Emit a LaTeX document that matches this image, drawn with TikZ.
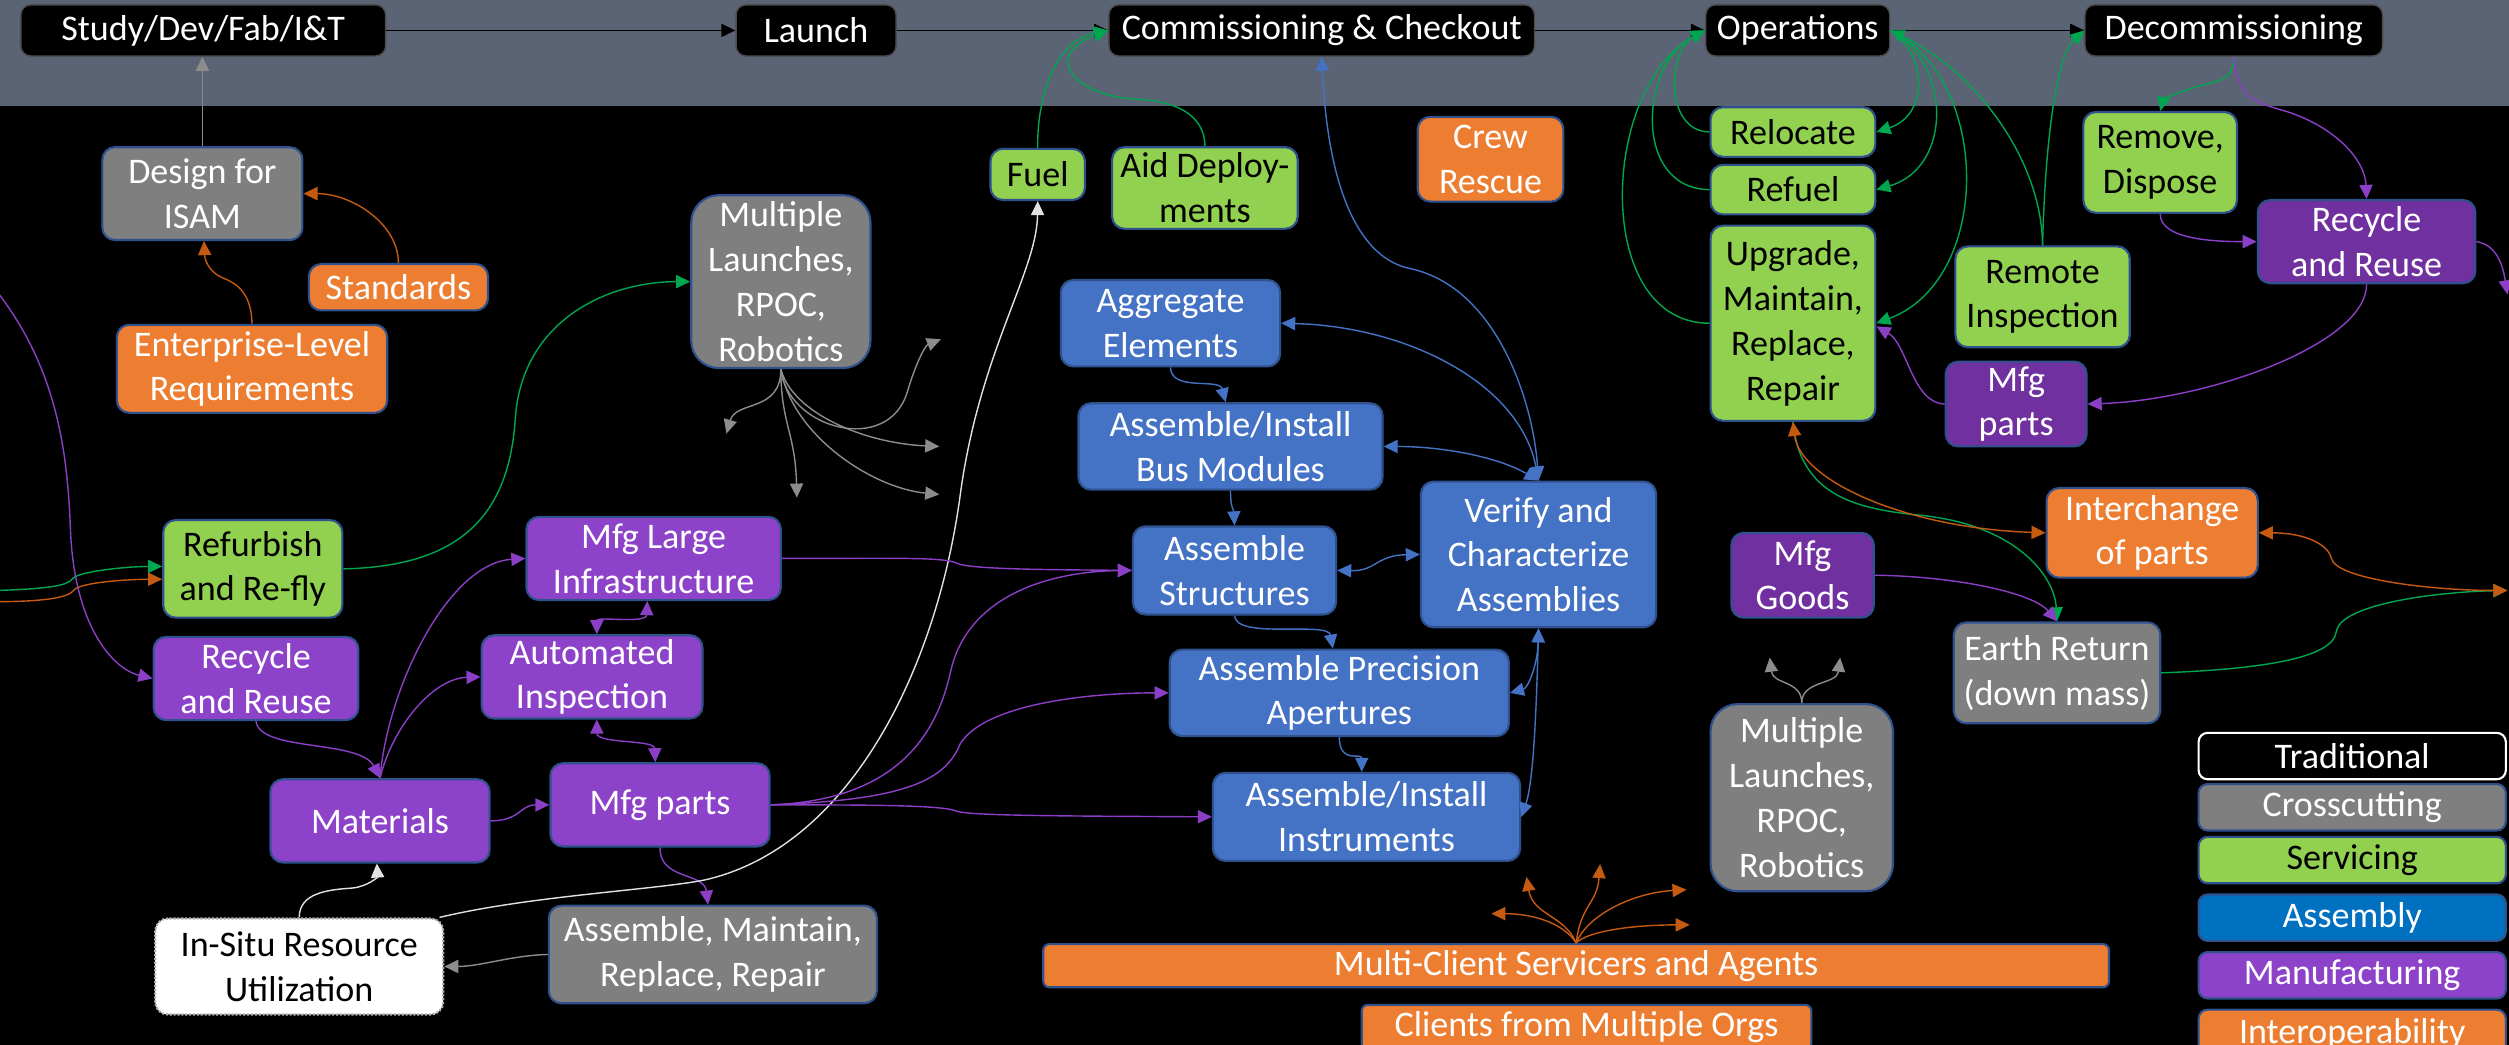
\documentclass[tikz,border=0pt]{standalone}
\usepackage{fontspec}
\setmainfont{Carlito}
\usetikzlibrary{arrows.meta,calc}
\definecolor{band}{RGB}{91,100,117}
\definecolor{bord}{RGB}{47,82,143}
\definecolor{cgray}{RGB}{127,127,127}
\definecolor{cgreen}{RGB}{146,208,80}
\definecolor{cblue}{RGB}{68,114,196}
\definecolor{cbluetwo}{RGB}{0,112,192}
\definecolor{cpurp}{RGB}{141,67,201}
\definecolor{cpurpd}{RGB}{112,48,160}
\definecolor{corange}{RGB}{237,125,49}
\definecolor{aor}{RGB}{197,90,17}
\definecolor{agr}{RGB}{0,166,80}
\definecolor{apu}{RGB}{138,63,198}
\definecolor{abl}{RGB}{68,114,196}
\definecolor{agy}{RGB}{140,140,140}
\definecolor{awh}{RGB}{225,225,225}
\newcommand\bx[7]{\node[#2, minimum width={(#5-#3)*0.032cm}, minimum height={(#6-#4)*0.032cm}] (#1) at ({(#3+#5)/2},{(#4+#6)/2}) {#7};}
\tikzset{
  >={Triangle[length=8pt,width=7.5pt]},
  nbase/.style={draw=bord, line width=1.2pt, rounded corners=0.25cm, inner sep=0pt, align=center, font=\fontsize{20.5}{25.5}\selectfont},
  topbox/.style={nbase, fill=black, draw=black!70, line width=0.8pt, text=white, rounded corners=0.2cm},
  graybox/.style={nbase, fill=cgray, text=white},
  greenbox/.style={nbase, fill=cgreen, text=black},
  bluebox/.style={nbase, fill=cblue, text=white},
  purpbox/.style={nbase, fill=cpurp, text=white},
  purpdbox/.style={nbase, fill=cpurpd, text=white},
  orbox/.style={nbase, fill=corange, text=white},
  roundgray/.style={graybox, rounded corners=0.55cm},
  isrubox/.style={nbase, fill=white, draw=gray!60, densely dotted, text=black},
  legtrad/.style={nbase, fill=black, draw=white, text=white},
  leg/.style={rounded corners=0.18cm},
  conn/.style={line width=0.8pt, ->},
  egr/.style={conn, draw=agr},
  eor/.style={conn, draw=aor},
  epu/.style={conn, draw=apu},
  ebl/.style={conn, draw=abl},
  egy/.style={conn, draw=agy},
  ewh/.style={conn, draw=awh},
  eblk/.style={conn, draw=black}
}
\begin{document}
\begin{tikzpicture}[x=0.032cm,y=-0.032cm]
\useasboundingbox (0,0) rectangle (1568,653);
\clip (0,0) rectangle (1568,653);
\fill[black] (0,0) rectangle (1568,653);
\fill[band] (0,0) rectangle (1568,66);

% ---- nodes
\bx{study}{topbox}{13}{3}{241}{35}{Study/Dev/Fab/I\&T}
\bx{launch}{topbox}{460}{3}{560}{35}{Launch}
\bx{comm}{topbox}{693}{3}{959}{35}{Commissioning \& Checkout}
\bx{ops}{topbox}{1066}{3}{1181}{35}{Operations}
\bx{decom}{topbox}{1303}{3}{1489}{35}{Decommissioning}
\bx{design}{graybox}{64}{92}{189}{150}{Design for\\ISAM}
\bx{standards}{orbox}{193}{165}{305}{194}{Standards}
\bx{enterprise}{orbox}{73}{203}{242}{258}{Enterprise-Level\\Requirements}
\bx{mult1}{roundgray}{432}{122}{544}{230}{Multiple\\Launches,\\RPOC,\\Robotics}
\bx{refurb}{greenbox}{102}{325}{214}{386}{Refurbish\\and Re-fly}
\bx{recycleL}{purpbox}{96}{398}{224}{450}{Recycle\\and Reuse}
\bx{mfglarge}{purpbox}{329}{323}{488}{375}{Mfg Large\\Infrastructure}
\bx{autoinsp}{purpbox}{301}{397}{439}{449}{Automated\\Inspection}
\bx{materials}{purpbox}{169}{487}{306}{539}{Materials}
\bx{mfgpartsL}{purpbox}{344}{477}{481}{529}{Mfg parts}
\bx{insitu}{isrubox}{97}{574}{277}{634}{In-Situ Resource\\Utilization}
\bx{asm}{graybox}{343}{566}{548}{627}{Assemble, Maintain,\\Replace, Repair}
\bx{fuel}{greenbox}{619}{93}{678}{125}{Fuel}
\bx{aid}{greenbox}{695}{92}{811}{143}{Aid Deploy-\\ments}
\bx{crew}{orbox}{886}{73}{977}{126}{Crew\\Rescue}
\bx{aggregate}{bluebox}{663}{175}{800}{229}{Aggregate\\Elements}
\bx{bus}{bluebox}{674}{252}{864}{306}{Assemble/Install\\Bus Modules}
\bx{structures}{bluebox}{708}{329}{835}{384}{Assemble\\Structures}
\bx{verify}{bluebox}{888}{301}{1035}{392}{Verify and\\Characterize\\Assemblies}
\bx{precision}{bluebox}{731}{406}{943}{460}{Assemble Precision\\Apertures}
\bx{instruments}{bluebox}{758}{483}{950}{538}{Assemble/Install\\Instruments}
\bx{relocate}{greenbox}{1069}{67}{1172}{98}{Relocate}
\bx{refuel}{greenbox}{1069}{103}{1172}{134}{Refuel}
\bx{upgrade}{greenbox}{1069}{141}{1172}{263}{Upgrade,\\Maintain,\\Replace,\\Repair}
\bx{remote}{greenbox}{1222}{154}{1331}{217}{Remote\\Inspection}
\bx{mfgpartsR}{purpdbox}{1216}{226}{1304}{279}{Mfg\\parts}
\bx{remove}{greenbox}{1302}{70}{1398}{133}{Remove,\\Dispose}
\bx{recycleR}{purpdbox}{1411}{125}{1547}{177}{Recycle\\and Reuse}
\bx{mfggoods}{purpdbox}{1082}{333}{1171}{386}{Mfg\\Goods}
\bx{interchange}{orbox}{1279}{305}{1411}{361}{Interchange\\of parts}
\bx{earth}{graybox}{1221}{389}{1350}{452}{Earth Return\\(down mass)}
\bx{mult2}{roundgray}{1069}{440}{1183}{557}{Multiple\\Launches,\\RPOC,\\Robotics}
\bx{mc}{orbox, rounded corners=0.12cm}{652}{590}{1318}{617}{Multi-Client Servicers and Agents}
\bx{clients}{orbox, rounded corners=0.12cm}{851}{628}{1132}{656}{Clients from Multiple Orgs}
\bx{lt}{legtrad, leg}{1374}{458}{1566}{487}{Traditional}
\bx{lc}{graybox, leg}{1374}{490}{1566}{519}{Crosscutting}
\bx{ls}{greenbox, leg}{1374}{523}{1566}{552}{Servicing}
\bx{la}{bluebox, leg, fill=cbluetwo}{1374}{559}{1566}{588}{Assembly}
\bx{lm}{purpbox, leg}{1374}{595}{1566}{624}{Manufacturing}
\bx{li}{orbox, leg}{1374}{631}{1566}{661}{Interoperability}

% free ends
\coordinate (lg) at (-2,369);
\coordinate (lo) at (-2,376);
\coordinate (lp) at (-2,182);
\coordinate (rp) at (1567,184);
\coordinate (ro) at (1567,369);
\coordinate (m1a) at (454,271);
\coordinate (m1b) at (498,311);
\coordinate (m1c) at (588,212);
\coordinate (m1d) at (587,279);
\coordinate (m1e) at (587,309);
\coordinate (m2a) at (1106,411);
\coordinate (m2b) at (1150,411);
\coordinate (f1) at (932,571);
\coordinate (f2) at (954,548);
\coordinate (f3) at (1000,540);
\coordinate (f4) at (1054,556);
\coordinate (f5) at (1056,578);

% ---- top flow
\draw[eblk] (study.east) -- (launch.west);
\draw[eblk] (launch.east) -- (comm.west);
\draw[eblk] (comm.east) -- (ops.west);
\draw[eblk] (ops.east) -- (decom.west);
\draw[egy, line width=0.6pt] (design.north) -- (design.north |- study.south);

% ---- left
\draw[eor] (standards.north) .. controls (249,140) and (220,121) .. (design.east);
\draw[eor] (enterprise.north) .. controls (157,185) and (150,178) .. (140,174) .. controls (130,170) and (128,162) .. ($(design.south)+(1,0)$);
\draw[egr] (refurb.east) .. controls (290,354) and (318,320) .. (322,262) .. controls (326,200) and (380,176) .. (mult1.west);
\draw[egr] (lg) .. controls (30,368) and (42,366) .. (45,362) .. controls (48,357) and (80,354) .. ($(refurb.west)+(0,-1.5)$);
\draw[eor] (lo) .. controls (30,376) and (43,373) .. (46,369) .. controls (49,364) and (80,362) .. ($(refurb.west)+(0,6.5)$);
\draw[epu] (lp) .. controls (35,230) and (42,280) .. (44,330) .. controls (46,390) and (70,418) .. (recycleL.west);
\draw[epu] (recycleL.south) .. controls (162,470) and (225,462) .. (materials.north);
\draw[epu] (materials.north) .. controls (242,430) and (280,352) .. (mfglarge.west);
\draw[epu] (materials.north) .. controls (245,455) and (270,424) .. (autoinsp.west);
\draw[epu,<->] ($(autoinsp.north)+(3,0)$) .. controls (373,385) and (404,390) .. ($(mfglarge.south)+(-4,0)$);
\draw[epu,<->] ($(autoinsp.south)+(3,0)$) .. controls (373,465) and (409,462) .. ($(mfgpartsL.north)+(-3,0)$);
\draw[epu] (materials.east) .. controls (325,513) and (325,503) .. (mfgpartsL.west);
\draw[epu] (mfgpartsL.south) .. controls (412,550) and (440,545) .. ($(asm.north)+(-3,0)$);
\draw[egy] (asm.west) .. controls (320,597) and (300,604) .. (insitu.east);
\draw[ewh] (insitu.north) .. controls (187,558) and (205,556) .. (220,555) .. controls (230,554) and (236,548) .. ($(materials.south)+(-2,0)$);
\draw[ewh] ($(insitu.north east)+(-3,0)$) .. controls (330,560) and (410,556) .. (440,550) .. controls (530,530) and (585,420) .. (600,310) .. controls (612,220) and (648,170) .. (fuel.south);

% ---- manufacturing to assembly
\draw[epu] (mfglarge.east) .. controls (560,349) and (590,348) .. (598,352) .. controls (606,356) and (660,356) .. (structures.west);
\draw[epu] (mfgpartsL.east) .. controls (560,500) and (585,460) .. (594,420) .. controls (605,370) and (660,357) .. (structures.west);
\draw[epu] (mfgpartsL.east) .. controls (560,500) and (590,490) .. (600,465) .. controls (615,440) and (680,433) .. (precision.west);
\draw[epu] (mfgpartsL.east) .. controls (540,503) and (590,503) .. (598,507) .. controls (606,510) and (680,510) .. (instruments.west);

% ---- multiple launches fan
\draw[egy] (mult1.south) .. controls (488,258) and (460,250) .. (m1a);
\draw[egy] (mult1.south) .. controls (488,265) and (497,270) .. (m1b);
\draw[egy] (mult1.south) .. controls (492,268) and (555,285) .. (567,245) .. controls (572,228) and (578,216) .. (m1c);
\draw[egy] (mult1.south) .. controls (495,258) and (540,277) .. (m1d);
\draw[egy] (mult1.south) .. controls (495,272) and (545,305) .. (m1e);

% ---- commissioning
\draw[egr] (fuel.north) .. controls (648,60) and (660,25) .. (comm.west);
\draw[egr] (aid.north) .. controls (753,72) and (735,63) .. (710,62) .. controls (672,60) and (650,35) .. (comm.west);

% ---- assembly
\draw[ebl,<->] (comm.south) .. controls (830,120) and (850,162) .. (882,168) .. controls (935,180) and (958,250) .. (verify.north);
\draw[ebl,<->] (verify.north) .. controls (950,240) and (880,204) .. (aggregate.east);
\draw[ebl,<->] (verify.north) .. controls (935,285) and (900,279) .. (bus.east);
\draw[ebl] (aggregate.south) .. controls (732,245) and (762,236) .. ($(bus.north)+(-3,0)$);
\draw[ebl] (bus.south) .. controls (769,318) and (771,318) .. (structures.north);
\draw[ebl,<->] (structures.east) .. controls (860,357) and (860,347) .. (verify.west);
\draw[ebl] (structures.south) .. controls (772,400) and (830,388) .. ($(precision.north)+(-4,0)$);
\draw[ebl] (precision.south) .. controls (837,478) and (851,470) .. ($(instruments.north)+(-3,0)$);
\draw[ebl,<->] (verify.south) .. controls (961,415) and (955,430) .. (precision.east);
\draw[ebl,<->] (verify.south) .. controls (960,450) and (958,490) .. (instruments.east);

% ---- operations
\draw[egr] (relocate.west) .. controls (1040,82) and (1042,32) .. (ops.west);
\draw[egr] (refuel.west) .. controls (1020,118) and (1025,40) .. (ops.west);
\draw[egr] (upgrade.west) .. controls (995,202) and (1000,55) .. (ops.west);
\draw[egr] (ops.east) .. controls (1205,35) and (1205,72) .. (relocate.east);
\draw[egr] (ops.east) .. controls (1220,40) and (1220,105) .. (refuel.east);
\draw[egr] (ops.east) .. controls (1245,50) and (1245,175) .. (upgrade.east);
\draw[egr] (remote.north) .. controls (1276,100) and (1235,45) .. (ops.east);
\draw[egr] (remote.north) .. controls (1278,90) and (1285,35) .. (decom.west);

% ---- decommissioning
\draw[egr] (decom.south) .. controls (1396,52) and (1385,50) .. (1370,55) .. controls (1356,60) and (1352,62) .. (remove.north);
\draw[epu] (decom.south) .. controls (1398,62) and (1410,64) .. (1430,70) .. controls (1460,80) and (1478,100) .. (recycleR.north);
\draw[epu] (remove.south) .. controls (1350,150) and (1385,151) .. (recycleR.west);
\draw[epu] (recycleR.east) .. controls (1560,153) and (1564,165) .. (rp);
\draw[epu] (recycleR.south) .. controls (1479,215) and (1380,250) .. (mfgpartsR.east);
\draw[epu] (mfgpartsR.west) .. controls (1195,252) and (1192,215) .. ($(upgrade.east)+(0,2)$);

% ---- interchange / earth return
\draw[egr] (upgrade.south) .. controls (1125,310) and (1160,318) .. (1200,322) .. controls (1260,328) and (1284,360) .. (earth.north);
\draw[eor,<->] (upgrade.south) .. controls (1125,300) and (1190,330) .. (interchange.west);
\draw[epu] (mfggoods.east) .. controls (1220,360) and (1270,370) .. (earth.north);
\draw[egr] (earth.east) .. controls (1420,418) and (1458,410) .. (1460,395) .. controls (1462,378) and (1520,370) .. (ro);
\draw[eor,<->] (interchange.east) .. controls (1440,333) and (1455,340) .. (1457,349) .. controls (1460,362) and (1520,369) .. (ro);

% ---- bottom fans
\draw[egy] (mult2.north) .. controls (1126,425) and (1108,428) .. (m2a);
\draw[egy] (mult2.north) .. controls (1126,425) and (1148,428) .. (m2b);
\draw[eor] (mc.north) .. controls (978,578) and (960,571) .. (f1);
\draw[eor] (mc.north) .. controls (978,572) and (958,572) .. (f2);
\draw[eor] (mc.north) .. controls (988,565) and (998,565) .. (f3);
\draw[eor] (mc.north) .. controls (992,572) and (1020,558) .. (f4);
\draw[eor] (mc.north) .. controls (992,582) and (1020,578) .. (f5);
\end{tikzpicture}
\end{document}
